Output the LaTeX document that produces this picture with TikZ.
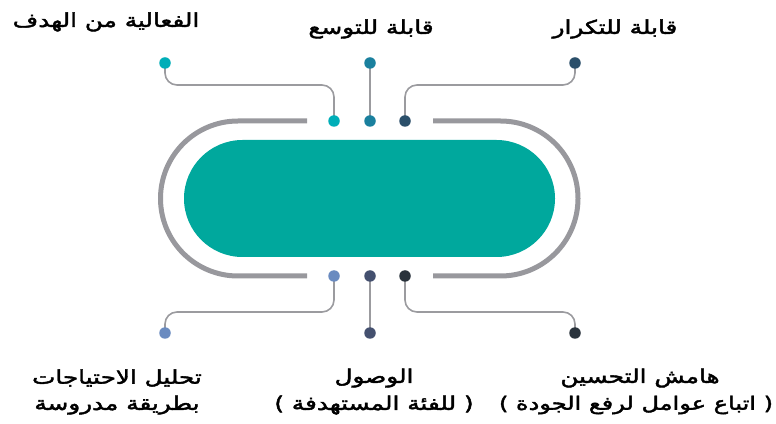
\documentclass[tikz,border=0pt]{standalone}
\usepackage{fontspec}
\newfontfamily\arabicfont[Script=Arabic,FakeBold=2.2,FakeStretch=1.3]{DejaVu Sans}
\TeXXeTstate=1
\usetikzlibrary{shapes.misc}
\pgfdeclarelayer{background}
\pgfsetlayers{background,main}
\definecolor{pillc}{HTML}{00A89D}
\definecolor{trackc}{HTML}{98989D}
\definecolor{linec}{HTML}{9B9B9F}
\definecolor{cA}{HTML}{00AEB8}
\definecolor{cB}{HTML}{1A809E}
\definecolor{cC}{HTML}{2B4F6A}
\definecolor{cD}{HTML}{6A8BC0}
\definecolor{cE}{HTML}{44506F}
\definecolor{cF}{HTML}{2A333C}
\tikzset{
  dotn/.style={circle,inner sep=0pt,minimum size=11.5pt},
  conn/.style={draw=linec,line width=1.6pt,rounded corners=12pt},
  trackline/.style={draw=trackc,line width=5pt},
  lbl/.style={font=\arabicfont\fontsize{19}{22}\selectfont,align=center,inner sep=0pt,text=black}
}
\begin{document}
\begin{tikzpicture}[x=1pt,y=1pt]
\useasboundingbox (0,0) rectangle (776,423);
% track
\draw[trackline] (307,302) -- (238,302) arc[start angle=90,end angle=270,radius=77.5] -- (307,147);
\draw[trackline] (433,302) -- (500.5,302) arc[start angle=90,end angle=-90,radius=77.5] -- (433,147);
% pill
\node[rounded rectangle,fill=pillc,inner sep=0pt,minimum width=371pt,minimum height=117pt] (pill) at (369.5,224.5) {};
% dots
\node[dotn,fill=cA] (t1o) at (165,360) {};
\node[dotn,fill=cB] (t2o) at (370,360) {};
\node[dotn,fill=cC] (t3o) at (575,360) {};
\node[dotn,fill=cA] (t1i) at (334,302) {};
\node[dotn,fill=cB] (t2i) at (370,302) {};
\node[dotn,fill=cC] (t3i) at (405,302) {};
\node[dotn,fill=cD] (b1i) at (334,147) {};
\node[dotn,fill=cE] (b2i) at (370,147) {};
\node[dotn,fill=cF] (b3i) at (405,147) {};
\node[dotn,fill=cD] (b1o) at (165,90) {};
\node[dotn,fill=cE] (b2o) at (370,90) {};
\node[dotn,fill=cF] (b3o) at (575,90) {};
\coordinate (h1) at (334,338);
\coordinate (h3) at (405,338);
\coordinate (g1) at (334,111);
\coordinate (g3) at (405,111);
\begin{pgfonlayer}{background}
\draw[conn] (t1o.center) |- (h1) -- (t1i.center);
\draw[conn] (t2o.center) -- (t2i.center);
\draw[conn] (t3o.center) |- (h3) -- (t3i.center);
\draw[conn] (b1o.center) |- (g1) -- (b1i.center);
\draw[conn] (b2o.center) -- (b2i.center);
\draw[conn] (b3o.center) |- (g3) -- (b3i.center);
\end{pgfonlayer}
% labels
\node[lbl] (l1) at (106,401) {\beginR الفعالية من الهدف\endR};
\node[lbl] (l2) at (371,394) {\beginR قابلة للتوسع\endR};
\node[lbl] (l3) at (615,394) {\beginR قابلة للتكرار\endR};
\node[lbl] (l4) at (117,45) {\beginR تحليل الاحتياجات\endR};
\node[lbl] (l4b) at (117,18) {\beginR بطريقة مدروسة\endR};
\node[lbl] (l5) at (374,45) {\beginR الوصول\endR};
\node[lbl] (l5b) at (374,18) {\beginR ( للفئة المستهدفة )\endR};
\node[lbl] (l6) at (640,45) {\beginR هامش التحسين\endR};
\node[lbl,font=\arabicfont\fontsize{18.5}{22}\selectfont] (l6b) at (636,18) {\beginR ( اتباع عوامل لرفع الجودة )\endR};
\end{tikzpicture}
\end{document}
